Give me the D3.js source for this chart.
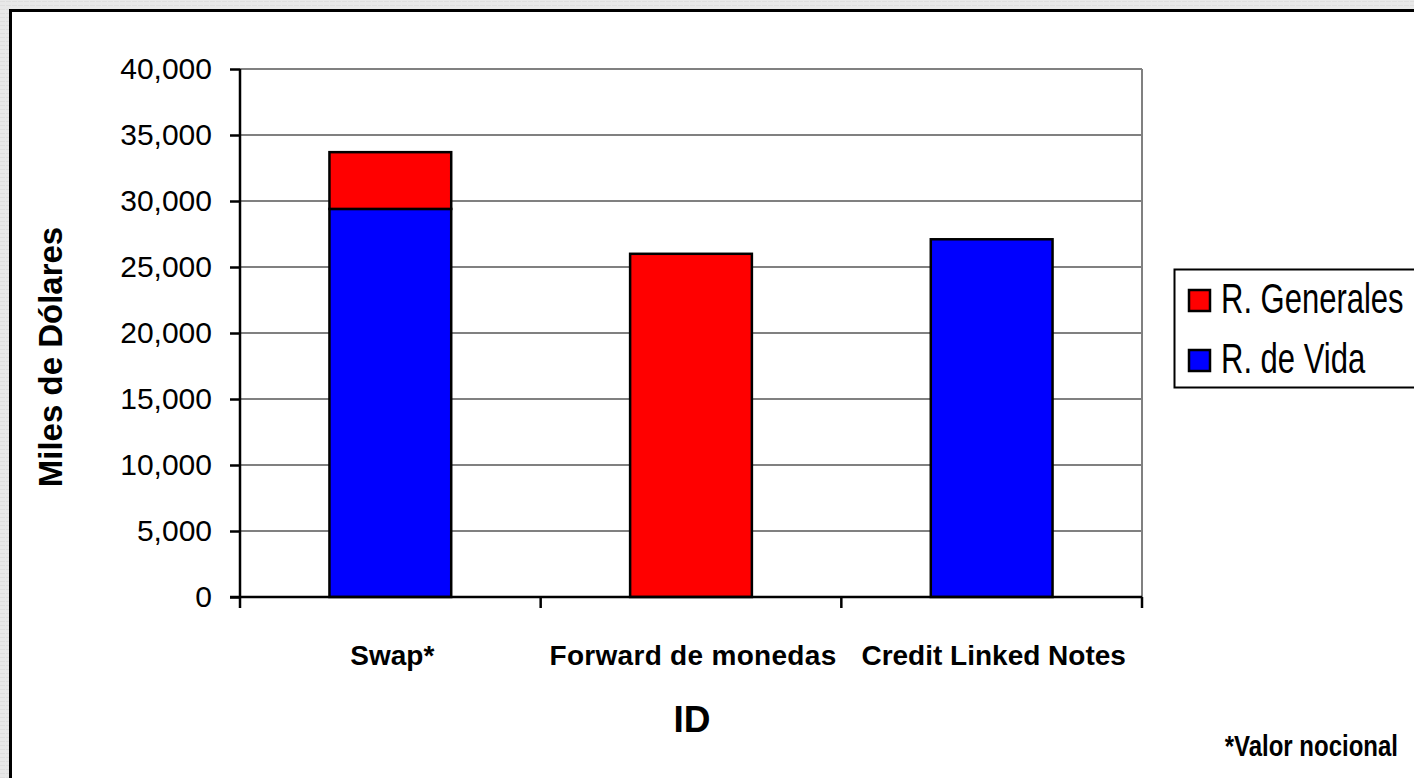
<!DOCTYPE html>
<html><head><meta charset="utf-8">
<script src="https://cdn.jsdelivr.net/npm/d3@7"></script>
<style>html,body{margin:0;padding:0;background:#e9e9e9;overflow:hidden}svg{display:block}</style>
</head><body>
<script>
const categories = ["Swap*", "Forward de monedas", "Credit Linked Notes"];
const seriesNames = ["R. de Vida", "R. Generales"];
const vidaValues = [29400, 0, 27100];
const generalesValues = [4300, 26000, 0];
const yTicks = [0, 5000, 10000, 15000, 20000, 25000, 30000, 35000, 40000];
const colors = {"R. de Vida": "#0000ff", "R. Generales": "#ff0000"};

const W = 1414, H = 778;
const FONT = "Liberation Sans, Arial, sans-serif";
const svg = d3.select("body").append("svg").attr("width", W).attr("height", H);

// textured grey background
const defs = svg.append("defs");
const pat = defs.append("pattern").attr("id","tex").attr("width",6).attr("height",4).attr("patternUnits","userSpaceOnUse");
pat.append("rect").attr("width",6).attr("height",4).attr("fill","#e8e8e8");
pat.append("rect").attr("y",1).attr("width",5).attr("height",1).attr("fill","#dedede");
svg.append("rect").attr("width",W).attr("height",H).attr("fill","url(#tex)");
svg.append("rect").attr("x",10.5).attr("y",10.5).attr("width",W+20).attr("height",H+20)
  .attr("fill","#fff").attr("stroke","#000").attr("stroke-width",3);

const pLeft = 240, pRight = 1142, pTop = 69, pBottom = 597;
const x = d3.scaleBand().domain(categories).range([pLeft, pRight]).paddingInner(0.595).paddingOuter(0.2975);
const y = d3.scaleLinear().domain([0, 40000]).range([pBottom, pTop]);

// gridlines
svg.append("g").selectAll("line").data(yTicks.filter(d => d > 0)).join("line")
  .attr("x1", pLeft).attr("x2", pRight).attr("y1", d => y(d)).attr("y2", d => y(d))
  .attr("stroke", "#808080").attr("stroke-width", 2);
svg.append("line").attr("x1", pRight).attr("x2", pRight).attr("y1", pTop).attr("y2", pBottom)
  .attr("stroke", "#808080").attr("stroke-width", 2);

// stacked bars
const rows = categories.map((c, i) => ({cat: c, "R. de Vida": vidaValues[i], "R. Generales": generalesValues[i]}));
const stack = d3.stack().keys(seriesNames)(rows);
svg.append("g").selectAll("g").data(stack).join("g").attr("fill", d => colors[d.key])
  .selectAll("rect").data(d => d.filter(p => p[1] - p[0] > 0)).join("rect")
  .attr("x", d => x(d.data.cat)).attr("width", x.bandwidth())
  .attr("y", d => y(d[1])).attr("height", d => y(d[0]) - y(d[1]))
  .attr("stroke", "#000").attr("stroke-width", 2.5);

// y axis
const yAxis = svg.append("g").attr("transform", `translate(${pLeft},0)`)
  .call(d3.axisLeft(y).tickValues(yTicks).tickFormat(d3.format(",")).tickSize(10).tickPadding(18));
yAxis.select(".domain").attr("stroke", "#000").attr("stroke-width", 2.5).attr("d", `M0,${pTop}V${pBottom}`);
yAxis.selectAll(".tick line").attr("stroke", "#000").attr("stroke-width", 2.5);
yAxis.selectAll(".tick text").attr("font-family", FONT)
  .attr("font-size", 30).attr("fill", "#000");

// x axis
const xb = svg.append("g").attr("transform", `translate(0,${pBottom})`);
xb.append("line").attr("x1", pLeft - 10).attr("x2", pRight).attr("stroke", "#000").attr("stroke-width", 2.5);
const step = (pRight - pLeft) / categories.length;
const bounds = d3.range(categories.length + 1).map(i => pLeft + i * step);
xb.selectAll("line.t").data(bounds).join("line").attr("class","t")
  .attr("x1", d => d).attr("x2", d => d).attr("y1", 0).attr("y2", 11)
  .attr("stroke", "#000").attr("stroke-width", 2.5);
xb.selectAll("text").data(categories).join("text")
  .attr("x", d => x(d) + x.bandwidth() / 2 + 2).attr("y", 68)
  .attr("text-anchor", "middle").attr("font-family", FONT)
  .attr("font-weight", "bold").attr("font-size", 28).attr("letter-spacing", d => d === categories[1] ? 0.3 : 0)
  .text(d => d);

// titles
svg.append("text").attr("transform", "translate(62,357) rotate(-90)")
  .attr("text-anchor", "middle").attr("font-family", FONT)
  .attr("font-weight", "bold").attr("font-size", 33).text("Miles de Dólares");
svg.append("text").attr("transform", "translate(692,732)").attr("text-anchor", "middle")
  .attr("font-family", FONT).attr("font-weight", "bold")
  .attr("font-size", 37).text("ID");
svg.append("text").attr("transform", "translate(1398,756) scale(1,1.25)").attr("text-anchor", "end")
  .attr("font-family", FONT).attr("font-weight", "bold")
  .attr("font-size", 24).text("*Valor nocional");

// legend
const lg = svg.append("g");
lg.append("rect").attr("x", 1174.5).attr("y", 269.5).attr("width", 300).attr("height", 118)
  .attr("fill", "#fff").attr("stroke", "#000").attr("stroke-width", 2);
const legendItems = ["R. Generales", "R. de Vida"];
const li = lg.selectAll("g.item").data(legendItems).join("g").attr("class","item")
  .attr("transform", (d, i) => `translate(1189,${290 + i * 60})`);
li.append("rect").attr("width", 21).attr("height", 21).attr("fill", d => colors[d])
  .attr("stroke", "#000").attr("stroke-width", 2.5);
li.append("text").attr("transform", "translate(32,23) scale(1,1.4)").attr("font-family", FONT)
  .attr("font-size", 31).text(d => d);
</script>
</body></html>
